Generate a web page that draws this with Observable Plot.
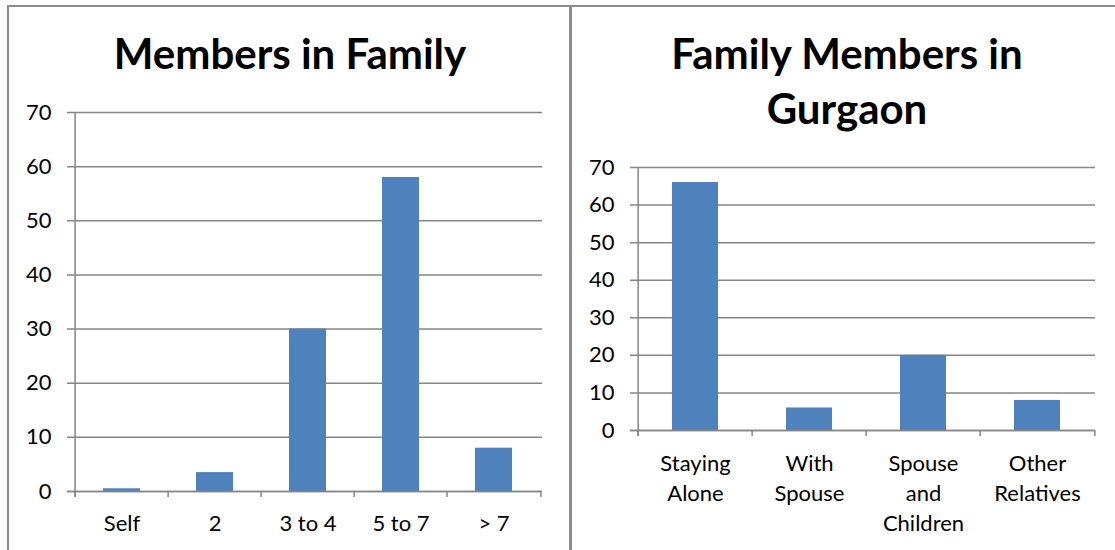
<!DOCTYPE html>
<html>
<head>
<meta charset="utf-8">
<script src="https://cdn.jsdelivr.net/npm/d3@7"></script>
<script src="https://cdn.jsdelivr.net/npm/@observablehq/plot@0.6"></script>
<style>
  html, body { margin: 0; padding: 0; background: #fff; }
  #root { position: relative; width: 1115px; height: 550px; overflow: hidden; font-family: Lato, "Open Sans", sans-serif; }
  .line { position: absolute; background: #8c8c8c; }
  .title { position: absolute; font-weight: bold; font-size: 42px; color: #000; text-align: center; line-height: 55px; white-space: nowrap; }
  .chart { position: absolute; top: 0; }
</style>
</head>
<body>
<div id="root">
  <div class="line" style="left:8px; top:5px; width:1107px; height:2px;"></div>
  <div class="line" style="left:7px; top:5px; width:2px; height:545px;"></div>
  <div class="line" style="left:569px; top:5px; width:3px; height:545px;"></div>
  <div id="left" class="chart" style="left:0px;"></div>
  <div id="right" class="chart" style="left:571px;"></div>
  <div id="t1" class="title" style="left:90px; width:400px; top:26px;"></div>
  <div id="t2" class="title" style="left:647px; width:400px; top:26px;"></div>
</div>
<script>
// ---- Data ----
const familyTitle = "Members in Family";
const familyCategories = ["Self", "2", "3 to 4", "5 to 7", "> 7"];
const familyValues = [0.5, 3.5, 30, 58, 8];

const gurgaonTitle = ["Family Members in", "Gurgaon"];
const gurgaonCategories = ["Staying Alone", "With Spouse", "Spouse and Children", "Other Relatives"];
const gurgaonTickLabels = ["Staying\nAlone", "With\nSpouse", "Spouse\nand\nChildren", "Other\nRelatives"];
const gurgaonValues = [66, 6, 20, 8];

const yTicks = [0, 10, 20, 30, 40, 50, 60, 70];

// ---- Styles ----
const barColor = "#4F81BD";
const gridColor = "#868686";
const font = "Lato, 'Open Sans', sans-serif";

function makeChart({categories, values, tickLabels, width, height, margins, xPad}) {
  const data = categories.map((c, i) => ({cat: c, value: values[i]}));
  const n = categories.length;
  const step = (width - margins.left - margins.right) / n;
  const labelOf = new Map(categories.map((c, i) => [c, tickLabels ? tickLabels[i] : c]));
  return Plot.plot({
    width, height,
    marginLeft: margins.left, marginRight: margins.right,
    marginTop: margins.top, marginBottom: margins.bottom,
    style: {fontFamily: font, fontSize: "22px", color: "#000", background: "transparent", overflow: "visible"},
    x: {domain: categories, paddingInner: 0.6, paddingOuter: 0.3, align: 0.5, axis: null},
    y: {domain: [0, 70], axis: null},
    marks: [
      Plot.ruleY(yTicks, {stroke: gridColor, strokeWidth: 1.5, insetLeft: -6}),
      Plot.barY(data, {x: "cat", y: "value", fill: barColor}),
      Plot.ruleX(categories, {x: d => d, dx: -step / 2, y1: 0, y2: 0, insetBottom: -6, stroke: gridColor, strokeWidth: 1.5}),
      Plot.ruleX([categories[n - 1]], {x: d => d, dx: step / 2, y1: 0, y2: 0, insetBottom: -6, stroke: gridColor, strokeWidth: 1.5}),
      Plot.ruleX([categories[0]], {x: d => d, dx: -step / 2, y1: 70, y2: 0, insetBottom: -6, stroke: gridColor, strokeWidth: 1.5}),
      Plot.ruleY([0], {stroke: gridColor, strokeWidth: 1.5, insetLeft: -6}),
      Plot.axisY({ticks: yTicks, tickSize: 0, tickPadding: 22, fontSize: 22, label: null, tickFormat: d => String(d)}),
      Plot.axisX({tickSize: 0, tickPadding: xPad, fontSize: 22, lineHeight: 1.36, label: null, tickFormat: d => labelOf.get(d)})
    ]
  });
}

document.getElementById("left").append(makeChart({
  categories: familyCategories, values: familyValues,
  width: 571, height: 550,
  margins: {left: 73, right: 29, top: 112, bottom: 59},
  xPad: 18
}));

document.getElementById("right").append(makeChart({
  categories: gurgaonCategories, values: gurgaonValues, tickLabels: gurgaonTickLabels,
  width: 544, height: 550,
  margins: {left: 65, right: 20, top: 167, bottom: 120},
  xPad: 19
}));

document.getElementById("t1").textContent = familyTitle;
document.getElementById("t2").innerHTML = gurgaonTitle.join("<br>");
</script>
</body>
</html>
